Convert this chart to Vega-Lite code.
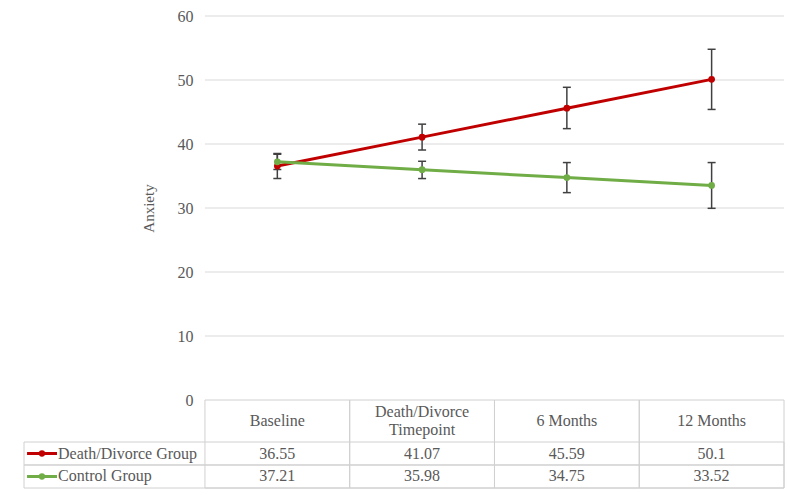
{
  "$schema": "https://vega.github.io/schema/vega-lite/v6.json",
  "width": 760,
  "height": 472,
  "autosize": {"type": "none"},
  "padding": {"left": 24, "top": 16, "right": 16, "bottom": 8},
  "background": "white",
  "config": {
    "font": "Liberation Serif",
    "view": {"stroke": null},
    "axisX": {"disable": true},
    "text": {"font": "Liberation Serif", "fontSize": 16, "fontWeight": "normal", "color": "#595959"}
  },
  "datasets": {
    "pts": [
      {"t": 1, "time": "Baseline", "group": "Death/Divorce Group", "mean": 36.55, "lo": 34.6, "hi": 38.5},
      {"t": 2, "time": "Death/Divorce Timepoint", "group": "Death/Divorce Group", "mean": 41.07, "lo": 39.06, "hi": 43.1},
      {"t": 3, "time": "6 Months", "group": "Death/Divorce Group", "mean": 45.59, "lo": 42.4, "hi": 48.86},
      {"t": 4, "time": "12 Months", "group": "Death/Divorce Group", "mean": 50.1, "lo": 45.4, "hi": 54.8},
      {"t": 1, "time": "Baseline", "group": "Control Group", "mean": 37.21, "lo": 36.0, "hi": 38.4},
      {"t": 2, "time": "Death/Divorce Timepoint", "group": "Control Group", "mean": 35.98, "lo": 34.6, "hi": 37.3},
      {"t": 3, "time": "6 Months", "group": "Control Group", "mean": 34.75, "lo": 32.4, "hi": 37.1},
      {"t": 4, "time": "12 Months", "group": "Control Group", "mean": 33.52, "lo": 29.95, "hi": 37.1}
    ],
    "heads": [
      {"t": 1, "label": "Baseline"},
      {"t": 2, "label": "Death/Divorce\nTimepoint"},
      {"t": 3, "label": "6 Months"},
      {"t": 4, "label": "12 Months"}
    ],
    "grid": [{"v": 10}, {"v": 20}, {"v": 30}, {"v": 40}, {"v": 50}, {"v": 60}],
    "one": [{}]
  },
  "layer": [
    {
      "data": {"name": "grid"},
      "mark": {"type": "rule", "color": "#d9d9d9", "strokeWidth": 1},
      "encoding": {
        "x": {"datum": 0.5, "type": "quantitative", "scale": {"domain": [-0.75, 4.5], "nice": false, "zero": false}},
        "x2": {"datum": 4.5},
        "y": {
          "field": "v", "type": "quantitative",
          "scale": {"domain": [-13.75, 60], "nice": false, "zero": false},
          "axis": {
            "title": "Anxiety",
            "values": [0, 10, 20, 30, 40, 50, 60],
            "domain": false,
            "ticks": false,
            "grid": false,
            "offset": -181,
            "labelFont": "Liberation Serif",
            "labelFontSize": 16,
            "labelColor": "#595959",
            "labelPadding": 12,
            "titleFont": "Liberation Serif",
            "titleFontSize": 15,
            "titleFontWeight": "normal",
            "titleColor": "#595959",
            "titleX": -57,
            "titleY": 192,
            "titleAngle": -90,
            "titleAlign": "center",
            "titleBaseline": "middle"
          }
        }
      }
    },
    {
      "data": {"name": "heads"},
      "transform": [
        {"calculate": "datum.t - 0.5", "as": "x0"},
        {"calculate": "datum.t + 0.5", "as": "x1"}
      ],
      "mark": {"type": "rect", "fill": null, "fillOpacity": 0, "stroke": "#d0d0d0", "strokeWidth": 1},
      "encoding": {
        "x": {"field": "x0", "type": "quantitative"},
        "x2": {"field": "x1"},
        "y": {"datum": 0, "type": "quantitative"},
        "y2": {"datum": -13.75}
      }
    },
    {
      "data": {"name": "one"},
      "mark": {"type": "rect", "fill": null, "fillOpacity": 0, "stroke": "#d0d0d0", "strokeWidth": 1},
      "encoding": {
        "x": {"datum": -0.75, "type": "quantitative"},
        "x2": {"datum": 4.5},
        "y": {"datum": -6.5625, "type": "quantitative"},
        "y2": {"datum": -10.156}
      }
    },
    {
      "data": {"name": "one"},
      "mark": {"type": "rect", "fill": null, "fillOpacity": 0, "stroke": "#d0d0d0", "strokeWidth": 1},
      "encoding": {
        "x": {"datum": -0.75, "type": "quantitative"},
        "x2": {"datum": 4.5},
        "y": {"datum": -10.156, "type": "quantitative"},
        "y2": {"datum": -13.75}
      }
    },
    {
      "data": {"name": "heads"},
      "transform": [{"filter": "indexof(datum.label, '\\n') < 0"}],
      "mark": {"type": "text", "align": "center", "baseline": "middle"},
      "encoding": {
        "x": {"field": "t", "type": "quantitative"},
        "y": {"datum": -3.28, "type": "quantitative"},
        "text": {"field": "label"}
      }
    },
    {
      "data": {"name": "heads"},
      "transform": [{"filter": "indexof(datum.label, '\\n') >= 0"}],
      "mark": {"type": "text", "align": "center", "baseline": "middle", "lineBreak": "\n", "lineHeight": 18, "dy": -9},
      "encoding": {
        "x": {"field": "t", "type": "quantitative"},
        "y": {"datum": -3.28, "type": "quantitative"},
        "text": {"field": "label"}
      }
    },
    {
      "data": {"name": "pts"},
      "transform": [{"filter": "datum.group === 'Death/Divorce Group'"}],
      "mark": {"type": "text", "align": "center", "baseline": "middle"},
      "encoding": {
        "x": {"field": "t", "type": "quantitative"},
        "y": {"datum": -8.36, "type": "quantitative"},
        "text": {"field": "mean", "type": "quantitative"}
      }
    },
    {
      "data": {"name": "pts"},
      "transform": [{"filter": "datum.group === 'Control Group'"}],
      "mark": {"type": "text", "align": "center", "baseline": "middle"},
      "encoding": {
        "x": {"field": "t", "type": "quantitative"},
        "y": {"datum": -11.95, "type": "quantitative"},
        "text": {"field": "mean", "type": "quantitative"}
      }
    },
    {
      "data": {"name": "pts"},
      "transform": [{"filter": "datum.group === 'Death/Divorce Group' && datum.t === 1"}],
      "layer": [
        {
          "mark": {"type": "text", "align": "left", "baseline": "middle"},
          "encoding": {
            "x": {"datum": -0.515, "type": "quantitative"},
            "y": {"datum": -8.36, "type": "quantitative"},
            "text": {"field": "group"}
          }
        },
        {
          "mark": {"type": "rule", "color": "#c00000", "strokeWidth": 3},
          "encoding": {
            "x": {"datum": -0.729, "type": "quantitative"},
            "x2": {"datum": -0.522},
            "y": {"datum": -8.36, "type": "quantitative"}
          }
        },
        {
          "mark": {"type": "point", "filled": true, "opacity": 1, "size": 40, "color": "#c00000"},
          "encoding": {
            "x": {"datum": -0.626, "type": "quantitative"},
            "y": {"datum": -8.36, "type": "quantitative"}
          }
        }
      ]
    },
    {
      "data": {"name": "pts"},
      "transform": [{"filter": "datum.group === 'Control Group' && datum.t === 1"}],
      "layer": [
        {
          "mark": {"type": "text", "align": "left", "baseline": "middle"},
          "encoding": {
            "x": {"datum": -0.515, "type": "quantitative"},
            "y": {"datum": -11.95, "type": "quantitative"},
            "text": {"field": "group"}
          }
        },
        {
          "mark": {"type": "rule", "color": "#70ad47", "strokeWidth": 3},
          "encoding": {
            "x": {"datum": -0.729, "type": "quantitative"},
            "x2": {"datum": -0.522},
            "y": {"datum": -11.95, "type": "quantitative"}
          }
        },
        {
          "mark": {"type": "point", "filled": true, "opacity": 1, "size": 40, "color": "#70ad47"},
          "encoding": {
            "x": {"datum": -0.626, "type": "quantitative"},
            "y": {"datum": -11.95, "type": "quantitative"}
          }
        }
      ]
    },
    {
      "data": {"name": "pts"},
      "layer": [
        {
          "mark": {"type": "rule", "color": "#404040", "strokeWidth": 1.5},
          "encoding": {
            "x": {"field": "t", "type": "quantitative"},
            "y": {"field": "lo", "type": "quantitative"},
            "y2": {"field": "hi"}
          }
        },
        {
          "mark": {"type": "tick", "orient": "horizontal", "color": "#404040", "size": 8, "thickness": 1.5, "opacity": 1},
          "encoding": {
            "x": {"field": "t", "type": "quantitative"},
            "y": {"field": "lo", "type": "quantitative"}
          }
        },
        {
          "mark": {"type": "tick", "orient": "horizontal", "color": "#404040", "size": 8, "thickness": 1.5, "opacity": 1},
          "encoding": {
            "x": {"field": "t", "type": "quantitative"},
            "y": {"field": "hi", "type": "quantitative"}
          }
        }
      ]
    },
    {
      "data": {"name": "pts"},
      "transform": [{"filter": "datum.group === 'Death/Divorce Group'"}],
      "layer": [
        {
          "mark": {"type": "line", "color": "#c00000", "strokeWidth": 3, "strokeCap": "round"},
          "encoding": {
            "x": {"field": "t", "type": "quantitative"},
            "y": {"field": "mean", "type": "quantitative"}
          }
        },
        {
          "mark": {"type": "point", "filled": true, "opacity": 1, "size": 45, "color": "#c00000"},
          "encoding": {
            "x": {"field": "t", "type": "quantitative"},
            "y": {"field": "mean", "type": "quantitative"}
          }
        }
      ]
    },
    {
      "data": {"name": "pts"},
      "transform": [{"filter": "datum.group === 'Control Group'"}],
      "layer": [
        {
          "mark": {"type": "line", "color": "#70ad47", "strokeWidth": 3, "strokeCap": "round"},
          "encoding": {
            "x": {"field": "t", "type": "quantitative"},
            "y": {"field": "mean", "type": "quantitative"}
          }
        },
        {
          "mark": {"type": "point", "filled": true, "opacity": 1, "size": 45, "color": "#70ad47"},
          "encoding": {
            "x": {"field": "t", "type": "quantitative"},
            "y": {"field": "mean", "type": "quantitative"}
          }
        }
      ]
    }
  ]
}
